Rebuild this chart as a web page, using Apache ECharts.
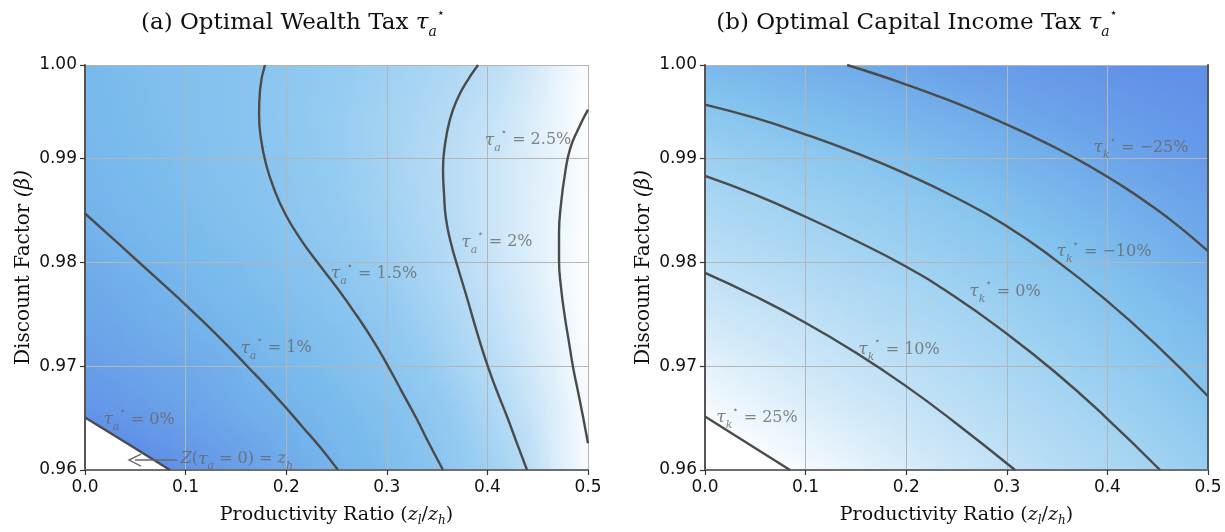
<!DOCTYPE html>
<html><head><meta charset="utf-8">
<script src="https://cdn.jsdelivr.net/npm/echarts@6/dist/echarts.min.js"></script>
<style>html,body{margin:0;padding:0;background:#fff}#c{width:1225px;height:532px}</style>
</head><body><div id="c"></div>
<script>
// ---------- data ----------
const xEdges = [0,0.025,0.05,0.075,0.1,0.125,0.15,0.175,0.2,0.225,0.25,0.275,0.3,0.325,0.35,0.375,0.4,0.425,0.45,0.475,0.5];
const yEdges = [0.96,0.964,0.968,0.972,0.976,0.98,0.984,0.988,0.992,0.996,0.999];

// colour level of panel (a), tax in %, one value per cell, rows bottom -> top
const shadeA = [
 [-0.2,-0.1,0.04,0.18,0.32,0.46,0.60,0.74,0.88,1.02,1.13,1.24,1.35,1.47,1.60,1.75,1.89,2.04,2.30,2.50],
 [0.20,0.30,0.40,0.50,0.60,0.71,0.83,0.94,1.05,1.14,1.24,1.33,1.43,1.54,1.68,1.83,1.98,2.14,2.32,2.50],
 [0.45,0.52,0.60,0.68,0.77,0.88,1.00,1.09,1.18,1.27,1.36,1.45,1.56,1.69,1.81,1.94,2.07,2.22,2.37,2.53],
 [0.62,0.69,0.79,0.88,0.97,1.06,1.13,1.21,1.29,1.37,1.45,1.54,1.66,1.77,1.89,2.00,2.14,2.27,2.41,2.56],
 [0.75,0.84,0.94,1.02,1.10,1.17,1.25,1.32,1.40,1.47,1.56,1.66,1.76,1.86,1.96,2.07,2.20,2.32,2.45,2.58],
 [0.91,1.02,1.08,1.15,1.22,1.29,1.35,1.42,1.49,1.57,1.65,1.74,1.82,1.91,1.99,2.11,2.23,2.34,2.46,2.58],
 [1.05,1.11,1.17,1.23,1.30,1.36,1.42,1.48,1.56,1.63,1.71,1.79,1.86,1.94,2.02,2.13,2.23,2.34,2.45,2.56],
 [1.11,1.17,1.23,1.28,1.34,1.40,1.46,1.52,1.59,1.66,1.73,1.80,1.88,1.95,2.03,2.13,2.23,2.33,2.43,2.56],
 [1.15,1.20,1.26,1.31,1.37,1.42,1.47,1.54,1.60,1.67,1.73,1.80,1.86,1.93,2.00,2.09,2.18,2.30,2.45,2.58],
 [1.17,1.23,1.28,1.32,1.37,1.42,1.47,1.53,1.59,1.65,1.71,1.77,1.83,1.89,1.95,2.02,2.12,2.24,2.40,2.56]
];
// colour level of panel (b), tax in %, rows bottom -> top
const shadeB = [
 [27.8,26.1,24.5,22.8,21.2,19.6,17.9,16.2,14.6,12.9,11.3,9.65,8.0,6.3,4.7,3.0,1.4,-0.3,-2.4,-4.5],
 [23.3,21.7,20.2,18.7,17.1,15.6,14.1,12.5,11.0,9.45,7.9,6.4,4.9,3.4,1.8,0.3,-1.7,-3.8,-5.9,-8.1],
 [19.3,17.8,16.3,14.9,13.4,11.9,10.4,9.0,7.6,6.2,4.8,3.3,1.9,0.5,-1.3,-3.3,-5.3,-7.3,-9.2,-11.4],
 [14.8,13.5,12.2,10.9,9.6,8.2,6.9,5.5,4.2,2.8,1.5,0.2,-1.7,-3.5,-5.3,-7.2,-9.0,-11.0,-13.4,-15.8],
 [10.5,9.2,8.0,6.8,5.6,4.4,3.2,2.0,0.8,-0.6,-2.3,-3.9,-5.6,-7.3,-8.9,-10.8,-13.2,-15.6,-18.0,-20.3],
 [6.2,5.1,3.9,2.7,1.6,0.4,-0.9,-2.4,-3.8,-5.2,-6.6,-8.0,-9.5,-11.4,-13.6,-15.9,-18.1,-20.3,-22.6,-24.8],
 [2.1,1.1,0.0,-1.3,-2.6,-3.9,-5.2,-6.5,-7.8,-9.2,-10.7,-12.8,-14.8,-16.9,-18.9,-21.0,-23.0,-25.1,-26.9,-28.7],
 [-2.8,-4.0,-5.3,-6.5,-7.7,-8.9,-10.1,-12.0,-13.8,-15.6,-17.3,-19.1,-20.9,-22.7,-24.5,-26.3,-28.0,-29.5,-31.0,-32.5],
 [-8.7,-9.8,-11.3,-12.8,-14.4,-15.9,-17.4,-19.0,-20.5,-22.1,-23.6,-25.1,-26.6,-28.0,-29.4,-30.7,-32.0,-33.2,-34.4,-35.5],
 [-14.7,-16.1,-17.5,-19.0,-20.4,-21.8,-23.2,-24.6,-26.0,-27.3,-28.6,-29.8,-31.0,-32.2,-33.3,-34.4,-35.4,-36.4,-37.3,-38.2]
];

// contour lines of panel (a): [productivity ratio, beta]
const wealth0  = [[0,0.96505],[0.0417,0.96257],[0.0845,0.96]];
const wealth1  = [[0,0.98470],[0.0219,0.98279],[0.0447,0.98079],[0.0686,0.97869],[0.0924,0.97659],[0.1163,0.97440],[0.1392,0.97221],[0.1620,0.96992],[0.1809,0.96801],[0.1988,0.96610],[0.2167,0.96410],[0.2346,0.96210],[0.2515,0.96]];
const wealth15 = [[0.1789,0.999],[0.1740,0.99662],[0.1730,0.99423],[0.1750,0.99185],[0.1799,0.98947],[0.1879,0.98708],[0.1988,0.98470],[0.2137,0.98231],[0.2316,0.97993],[0.2505,0.97755],[0.2694,0.97497],[0.2863,0.97249],[0.3012,0.97001],[0.3151,0.96753],[0.3290,0.96505],[0.3419,0.96257],[0.3559,0.96]];
const wealth2  = [[0.3907,0.999],[0.3787,0.99728],[0.3698,0.99566],[0.3628,0.99376],[0.3579,0.99137],[0.3559,0.98899],[0.3569,0.98660],[0.3588,0.98422],[0.3638,0.98184],[0.3708,0.97945],[0.3797,0.97659],[0.3897,0.97325],[0.4006,0.96992],[0.4105,0.96734],[0.4195,0.96515],[0.4294,0.96257],[0.4394,0.96]];
const wealth25 = [[0.5,0.99471],[0.4901,0.99280],[0.4821,0.99090],[0.4771,0.98851],[0.4732,0.98565],[0.4712,0.98279],[0.4712,0.98022],[0.4732,0.97755],[0.4771,0.97468],[0.4811,0.97230],[0.4851,0.96992],[0.4901,0.96753],[0.4950,0.96515],[0.5,0.96257]];
// contour lines of panel (b)
const capM25 = [[0.1412,0.999],[0.1740,0.99799],[0.2038,0.99699],[0.2336,0.99593],[0.2634,0.99479],[0.2932,0.99356],[0.3231,0.99224],[0.3529,0.99081],[0.3827,0.98924],[0.4125,0.98749],[0.4423,0.98555],[0.4722,0.98337],[0.5,0.98107]];
const capM10 = [[0,0.99519],[0.0497,0.99390],[0.0994,0.99233],[0.1491,0.99056],[0.1988,0.98856],[0.2485,0.98627],[0.2982,0.98360],[0.3479,0.98026],[0.3976,0.97645],[0.4473,0.97216],[0.5,0.96710]];
const cap0   = [[0,0.98832],[0.0497,0.98651],[0.0994,0.98441],[0.1491,0.98212],[0.1988,0.97964],[0.2485,0.97669],[0.2982,0.97325],[0.3479,0.96944],[0.3976,0.96515],[0.4523,0.96]];
const cap10  = [[0,0.97898],[0.0497,0.97673],[0.0994,0.97421],[0.1491,0.97135],[0.1988,0.96815],[0.2485,0.96458],[0.3082,0.96]];
const cap25  = [[0,0.96515],[0.0422,0.96257],[0.0845,0.96]];

// contour labels: [x, beta, level]
const labelsA = [[0.4404,0.99175,'2.5%'],[0.4095,0.98193,'2%'],[0.2873,0.97888,'1.5%'],[0.1899,0.97173,'1%'],[0.0537,0.96486,'0%']];
const labelsB = [[0.4334,0.99100,'\u221225%'],[0.3966,0.98100,'\u221210%'],[0.2982,0.97715,'0%'],[0.1928,0.97160,'10%'],[0.0517,0.96500,'25%']];
const arrowA = [[0.0915,0.96096],[0.0497,0.96096]];
const noteA = [[0.151,0.96105]];

// colour scales (level -> colour)
const colorsA = ['#5a88e8','#6498e8','#6eaae9','#7abbed','#94cbf1','#c6e3f7','#ffffff'];
const rangeA = [-0.25, 2.65];
const colorsB = ['#6090e8','#70abea','#82c2ee','#a4d4f2','#cde7f8','#ffffff'];
const rangeB = [-38, 27];

// ---------- helpers ----------
function hexToRgb(h){return [parseInt(h.slice(1,3),16),parseInt(h.slice(3,5),16),parseInt(h.slice(5,7),16)];}
function makeCmap(range, colors){
  const rgb = colors.map(hexToRgb), n = rgb.length-1;
  return v => {
    let t = (v-range[0])/(range[1]-range[0])*n;
    t = Math.max(0, Math.min(n, t));
    const k = Math.min(Math.floor(t), n-1), f = t-k;
    const c = rgb[k].map((a,m)=>Math.round(a+(rgb[k+1][m]-a)*f));
    return 'rgb('+c.join(',')+')';
  };
}
// shading patches between neighbouring cell centres (extended to plot edges)
function patches(shade){
  const nx = xEdges.length-1, ny = yEdges.length-1;
  const xc = [], yc = [];
  for (let i=0;i<nx;i++) xc.push((xEdges[i]+xEdges[i+1])/2);
  for (let j=0;j<ny;j++) yc.push((yEdges[j]+yEdges[j+1])/2);
  const out = [];
  for (let j=0;j<ny-1;j++) for (let i=0;i<nx-1;i++){
    out.push([
      i===0 ? xEdges[0] : xc[i], j===0 ? yEdges[0] : yc[j],
      i===nx-2 ? xEdges[nx] : xc[i+1], j===ny-2 ? yEdges[ny] : yc[j+1],
      xc[i], yc[j], xc[i+1], yc[j+1],
      shade[j][i], shade[j][i+1], shade[j+1][i], shade[j+1][i+1]
    ]);
  }
  return out;
}
function makeRender(cmap){
  return function(params, api){
    const r0 = api.coord([api.value(0), api.value(1)]), r1 = api.coord([api.value(2), api.value(3)]);
    const c0 = api.coord([api.value(4), api.value(5)]), c1 = api.coord([api.value(6), api.value(7)]);
    const v00=api.value(8), v10=api.value(9), v01=api.value(10), v11=api.value(11);
    const w = c1[0]-c0[0], h = c1[1]-c0[1];
    const gx = ((v10-v00)+(v11-v01))/2/w;
    const gy = ((v01-v00)+(v11-v10))/2/h;
    const vm = (v00+v10+v01+v11)/4;
    const mx = (c0[0]+c1[0])/2, my = (c0[1]+c1[1])/2;
    const x0=Math.round(r0[0]), x1=Math.round(r1[0]), y0=Math.round(r1[1]), y1=Math.round(r0[1]);
    const g = Math.hypot(gx, gy);
    let fill;
    if (g < 1e-9) fill = cmap(vm);
    else {
      const ux=gx/g, uy=gy/g;
      let pmin=Infinity, pmax=-Infinity;
      [[x0,y0],[x1,y0],[x0,y1],[x1,y1]].forEach(([px,py])=>{
        const p=(px-mx)*ux+(py-my)*uy; pmin=Math.min(pmin,p); pmax=Math.max(pmax,p);});
      const stops=[], N=6;
      for (let k=0;k<=N;k++){const p=pmin+(pmax-pmin)*k/N; stops.push({offset:k/N,color:cmap(vm+g*p)});}
      fill = new echarts.graphic.LinearGradient(mx+ux*pmin, my+uy*pmin, mx+ux*pmax, my+uy*pmax, stops, true);
    }
    return {type:'rect', shape:{x:x0,y:y0,width:x1-x0,height:y1-y0}, style:{fill:fill}};
  };
}

const LC = '#676767';
const lblRich = {
  t:{fontFamily:'DejaVu Serif',fontStyle:'italic',fontSize:17,color:LC,lineHeight:26,verticalAlign:'middle'},
  s:{fontFamily:'DejaVu Serif',fontStyle:'italic',fontSize:11,color:LC,lineHeight:26,verticalAlign:'bottom'},
  p:{fontFamily:'DejaVu Sans',fontSize:10,color:LC,lineHeight:26,verticalAlign:'top'},
  e:{fontFamily:'DejaVu Serif',fontSize:16,color:LC,lineHeight:26,verticalAlign:'middle'},
  i:{fontFamily:'DejaVu Serif',fontStyle:'italic',fontSize:16,color:LC,lineHeight:26,verticalAlign:'middle'}
};
const fmtX = v => v.toFixed(1);
const fmtY = v => v.toFixed(2);

function xAx(grid){
  return {gridIndex:grid,type:'value',min:0,max:0.5,interval:0.1,z:3,
    axisLine:{show:true,onZero:false,lineStyle:{color:'#6e6e6e',width:2}},
    axisTick:{show:true,length:5,lineStyle:{color:'#333',width:1.2}},
    axisLabel:{formatter:fmtX,fontFamily:'DejaVu Sans',fontSize:17,color:'#111',margin:9},
    splitLine:{show:true,lineStyle:{color:'#b5b5b5',width:1}},
    name:'{r|Productivity Ratio }{r|(}{i|z}{s|l}{r|/}{i|z}{s|h}{r|)}',nameLocation:'middle',nameGap:33,
    nameTextStyle:{rich:{
      r:{fontFamily:'DejaVu Serif',fontSize:19,color:'#111',lineHeight:24,verticalAlign:'middle'},
      i:{fontFamily:'DejaVu Serif',fontStyle:'italic',fontSize:19,color:'#111',lineHeight:24,verticalAlign:'middle'},
      s:{fontFamily:'DejaVu Serif',fontStyle:'italic',fontSize:12,color:'#111',lineHeight:24,verticalAlign:'bottom'}}}
  };
}
function yAx(grid){
  return {gridIndex:grid,type:'value',min:0.96,max:0.999,interval:0.01,z:3,
    axisLine:{show:true,onZero:false,lineStyle:{color:'#555',width:2}},
    axisTick:{show:true,length:5,lineStyle:{color:'#333',width:1.2}},
    axisLabel:{formatter:fmtY,fontFamily:'DejaVu Sans',fontSize:17,color:'#111',margin:8,showMaxLabel:true},
    splitLine:{show:true,lineStyle:{color:'#b5b5b5',width:1}},
    name:'{r|Discount Factor }{i|(\u03b2)}',nameLocation:'middle',nameGap:51,nameRotate:90,
    nameTextStyle:{rich:{
      r:{fontFamily:'DejaVu Serif',fontSize:20,color:'#111'},
      i:{fontFamily:'DejaVu Serif',fontStyle:'italic',fontSize:20,color:'#111'}}}
  };
}
function contour(data, xi, yi){
  return {type:'line',xAxisIndex:xi,yAxisIndex:yi,data:data,smooth:0.5,symbol:'none',silent:true,z:4,
    lineStyle:{color:'#4b4b4b',width:2.4}};
}
function whiteArea(data, xi, yi){
  return {type:'line',xAxisIndex:xi,yAxisIndex:yi,data:data,smooth:0.5,symbol:'none',silent:true,z:2,
    lineStyle:{width:0},areaStyle:{color:'#ffffff',opacity:1,origin:'start'}};
}
function labels(data, xi, yi, sub){
  return {type:'scatter',xAxisIndex:xi,yAxisIndex:yi,data:data,symbolSize:1,silent:true,z:6,
    itemStyle:{color:'rgba(0,0,0,0)'},
    label:{show:true,position:'inside',formatter:p=>'{t|\u03c4}{s|'+sub+'}{p|\u22c6}{e| = '+p.data[2]+'}',rich:lblRich}};
}
function titleRich(){
  return {r:{fontFamily:'DejaVu Serif',fontSize:23,fill:'#111',lineHeight:32,verticalAlign:'middle'},
          t:{fontFamily:'DejaVu Serif',fontStyle:'italic',fontSize:23,fill:'#111',lineHeight:32,verticalAlign:'middle'},
          s:{fontFamily:'DejaVu Serif',fontStyle:'italic',fontSize:14,fill:'#111',lineHeight:32,verticalAlign:'bottom'},
          p:{fontFamily:'DejaVu Sans',fontSize:13,fill:'#111',lineHeight:32,verticalAlign:'top'}};
}

const chart = echarts.init(document.getElementById('c'), null, {renderer:'canvas'});
chart.setOption({
  animation:false,
  backgroundColor:'#ffffff',
  grid:[{left:85,top:65,width:503,height:409},{left:705,top:65,width:503,height:409}],
  xAxis:[xAx(0), xAx(1)],
  yAxis:[yAx(0), yAx(1),
    {gridIndex:1,type:'value',position:'right',min:0.96,max:0.999,z:3,
     axisLine:{show:true,onZero:false,lineStyle:{color:'#555',width:2}},axisTick:{show:false},axisLabel:{show:false},splitLine:{show:false}}],
  graphic:[
    {type:'text',x:293,y:23,style:{text:'{r|(a) Optimal Wealth Tax }{t|\u03c4}{s|a}{p|\u22c6}',align:'center',verticalAlign:'middle',rich:titleRich()}},
    {type:'text',x:917,y:23,style:{text:'{r|(b) Optimal Capital Income Tax }{t|\u03c4}{s|a}{p|\u22c6}',align:'center',verticalAlign:'middle',rich:titleRich()}}
  ],
  series:[
    {type:'custom',xAxisIndex:0,yAxisIndex:0,data:patches(shadeA),renderItem:makeRender(makeCmap(rangeA,colorsA)),encode:{x:[0,2],y:[1,3]},z:1,silent:true},
    {type:'custom',xAxisIndex:1,yAxisIndex:1,data:patches(shadeB),renderItem:makeRender(makeCmap(rangeB,colorsB)),encode:{x:[0,2],y:[1,3]},z:1,silent:true},
    whiteArea(wealth0,0,0),
    whiteArea(cap25,1,1),
    contour(wealth0,0,0), contour(wealth1,0,0), contour(wealth15,0,0), contour(wealth2,0,0), contour(wealth25,0,0),
    contour(capM25,1,1), contour(capM10,1,1), contour(cap0,1,1), contour(cap10,1,1), contour(cap25,1,1),
    labels(labelsA,0,0,'a'),
    labels(labelsB,1,1,'k'),
    {type:'line',xAxisIndex:0,yAxisIndex:0,silent:true,z:5,
     data:[{value:arrowA[0],symbol:'none'},{value:arrowA[1],symbol:'path://M10,0 L0,5 L10,10',symbolSize:[12,12]}],
     showAllSymbol:true,symbolKeepAspect:true,
     lineStyle:{color:'#6a6a6a',width:1.4},itemStyle:{color:'rgba(0,0,0,0)',borderColor:'#6a6a6a',borderWidth:1.4}},
    {type:'scatter',xAxisIndex:0,yAxisIndex:0,data:noteA,symbolSize:1,silent:true,z:6,itemStyle:{color:'rgba(0,0,0,0)'},
     label:{show:true,position:'inside',formatter:'{i|Z}{e|(}{t|\u03c4}{s|a}{e| = 0) = }{i|z}{s|h}',rich:lblRich}}
  ]
});
</script></body></html>
